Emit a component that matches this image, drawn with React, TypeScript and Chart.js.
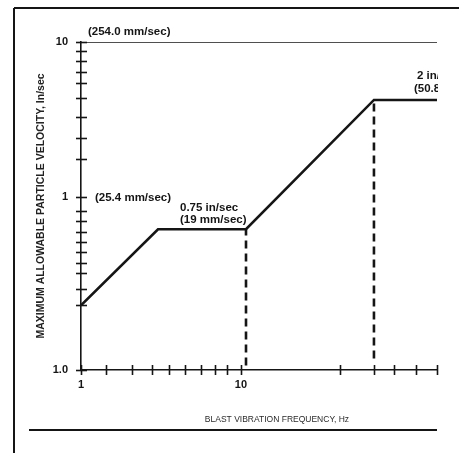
import React, { useEffect, useRef } from "react";
import { Chart, registerables } from "chart.js";

Chart.register(...registerables);

// Blast vibration limit curve, frequency (Hz) vs. particle velocity (in/sec)
const limitFreq = [1, 3.03, 10.75, 67.8, 168];
const limitVel = [0.2, 0.62, 0.62, 4.23, 4.23];
const ceilingFreq = [1, 168];
const ceilingVel = [10, 10];
const dropAFreq = [10.75, 10.75];
const dropAVel = [0.082, 0.62];
const dropBFreq = [67.8, 67.8];
const dropBVel = [0.091, 4.23];

const X_MIN = 1;
const X_MAX = 168;
const Y_MIN = 0.0766;
const Y_MAX = 10;

const xMajorTicks = [1, 10];
const xMajorLabels = ["1", "10"];
const xMinorTicks = [1.43, 2.07, 2.79, 3.56, 4.47, 5.62, 6.88, 8.21, 41.6, 67.8, 90.8, 123.6, 167];
const yMajorTicks = [10, 1, Y_MIN];
const yMajorLabels = ["10", "1", "1.0"];
const yMinorTicks = [8.75, 7.54, 6.38, 5.41, 4.37, 3.27, 2.39, 1.75, 0.816, 0.703, 0.597, 0.51, 0.44, 0.377, 0.322, 0.255, 0.2];

const INK = "#151515";
const FONT = "'Liberation Sans', Arial, Helvetica, sans-serif";

const pts = (xs: number[], ys: number[]) => xs.map((x, i) => ({ x, y: ys[i] }));

const labelFor = (majors: number[], labels: string[], v: number) => {
  const i = majors.findIndex((m) => Math.abs(m - v) < 1e-9);
  return i >= 0 ? labels[i] : "";
};

const decorPlugin = {
  id: "figureDecor",
  afterDraw(chart: any) {
    const ctx = chart.ctx as CanvasRenderingContext2D;
    const xs = chart.scales.x;
    const ys = chart.scales.y;
    const area = chart.chartArea;
    const px = (v: number) => xs.getPixelForValue(v);
    const py = (v: number) => ys.getPixelForValue(v);

    ctx.save();
    // crossing tick marks
    ctx.strokeStyle = INK;
    ctx.lineWidth = 1.6;
    xs.ticks.forEach((t: any) => {
      const x = Math.round(px(t.value)) + 0.5;
      ctx.beginPath();
      ctx.moveTo(x, area.bottom - 5);
      ctx.lineTo(x, area.bottom + 5);
      ctx.stroke();
    });
    ys.ticks.forEach((t: any) => {
      const y = Math.round(py(t.value)) + 0.5;
      ctx.beginPath();
      ctx.moveTo(area.left - 5, y);
      ctx.lineTo(area.left + 6, y);
      ctx.stroke();
    });

    // annotations
    ctx.fillStyle = INK;
    ctx.textBaseline = "middle";
    ctx.textAlign = "left";
    ctx.font = `bold 11.5px ${FONT}`;
    ctx.fillText("(254.0 mm/sec)", px(1) + 7, py(10) - 10);
    ctx.fillText("(25.4 mm/sec)", px(1) + 14, py(1) + 1);
    ctx.fillText("0.75 in/sec", px(limitFreq[1]) + 22, py(limitVel[1]) - 21);
    ctx.fillText("(19 mm/sec)", px(limitFreq[1]) + 22, py(limitVel[1]) - 9);

    ctx.save();
    ctx.beginPath();
    ctx.rect(0, 0, area.right + 1, chart.height);
    ctx.clip();
    ctx.fillText("2 in/sec", px(limitFreq[3]) + 43, py(limitVel[3]) - 24);
    ctx.fillText("(50.8 mm/sec)", px(limitFreq[3]) + 40, py(limitVel[3]) - 11);
    ctx.restore();

    // x axis title
    ctx.font = `8.5px ${FONT}`;
    ctx.textAlign = "center";
    ctx.fillStyle = "#2a2a2a";
    ctx.fillText("BLAST VIBRATION FREQUENCY, Hz", px(10) + 36, area.bottom + 50);

    // figure frame
    ctx.strokeStyle = INK;
    ctx.lineWidth = 2;
    ctx.beginPath();
    ctx.moveTo(14, 8);
    ctx.lineTo(chart.width, 8);
    ctx.moveTo(14, 8);
    ctx.lineTo(14, chart.height);
    ctx.stroke();
    ctx.beginPath();
    ctx.moveTo(29, area.bottom + 60);
    ctx.lineTo(area.right, area.bottom + 60);
    ctx.stroke();
    ctx.restore();
  },
};

export default function App() {
  const ref = useRef<HTMLCanvasElement | null>(null);

  useEffect(() => {
    document.body.style.margin = "0";
    const canvas = ref.current;
    if (!canvas) return;
    const chart = new Chart(canvas, {
      type: "scatter",
      data: {
        datasets: [
          {
            data: pts(ceilingFreq, ceilingVel),
            showLine: true,
            borderColor: INK,
            borderWidth: 1.6,
            pointRadius: 0,
          },
          {
            data: pts(limitFreq, limitVel),
            showLine: true,
            borderColor: INK,
            borderWidth: 2.6,
            pointRadius: 0,
          },
          {
            data: pts(dropAFreq, dropAVel),
            showLine: true,
            borderColor: INK,
            borderWidth: 2.6,
            borderDash: [8, 5],
            pointRadius: 0,
          },
          {
            data: pts(dropBFreq, dropBVel),
            showLine: true,
            borderColor: INK,
            borderWidth: 2.6,
            borderDash: [8, 5],
            pointRadius: 0,
          },
        ],
      },
      options: {
        responsive: false,
        animation: false,
        devicePixelRatio: 1,
        layout: { padding: { top: 42, right: 22, left: 0, bottom: 0 } },
        plugins: {
          legend: { display: false },
          tooltip: { enabled: false },
        },
        scales: {
          x: {
            type: "logarithmic",
            min: X_MIN,
            max: X_MAX,
            position: "bottom",
            grid: { display: false },
            border: { display: true, color: INK, width: 1.6 },
            afterBuildTicks: (axis: any) => {
              axis.ticks = [...xMajorTicks, ...xMinorTicks].map((v) => ({ value: v }));
            },
            afterFit: (axis: any) => {
              axis.height = 83;
            },
            ticks: {
              autoSkip: false,
              maxRotation: 0,
              padding: 0,
              color: INK,
              font: { family: FONT, size: 11, weight: "bold" },
              callback: (v: any) => labelFor(xMajorTicks, xMajorLabels, Number(v)),
            },
          },
          y: {
            type: "logarithmic",
            min: Y_MIN,
            max: Y_MAX,
            position: "left",
            grid: { display: false },
            border: { display: true, color: INK, width: 1.6 },
            afterBuildTicks: (axis: any) => {
              axis.ticks = [...yMajorTicks, ...yMinorTicks].map((v) => ({ value: v }));
            },
            afterFit: (axis: any) => {
              axis.width = 81;
            },
            title: {
              display: true,
              text: "MAXIMUM ALLOWABLE PARTICLE VELOCITY, In/sec",
              color: "#222",
              font: { family: FONT, size: 10.5, weight: "bold" },
              padding: { top: 35, bottom: 0 },
            },
            ticks: {
              autoSkip: false,
              padding: 5,
              color: INK,
              font: { family: FONT, size: 11, weight: "bold" },
              callback: (v: any) => labelFor(yMajorTicks, yMajorLabels, Number(v)),
            },
          },
        },
      },
      plugins: [decorPlugin],
    } as any);
    return () => chart.destroy();
  }, []);

  return (
    <div style={{ position: "absolute", left: 0, top: 0, width: 459, height: 453, background: "#fff" }}>
      <canvas ref={ref} width={459} height={453} />
    </div>
  );
}
